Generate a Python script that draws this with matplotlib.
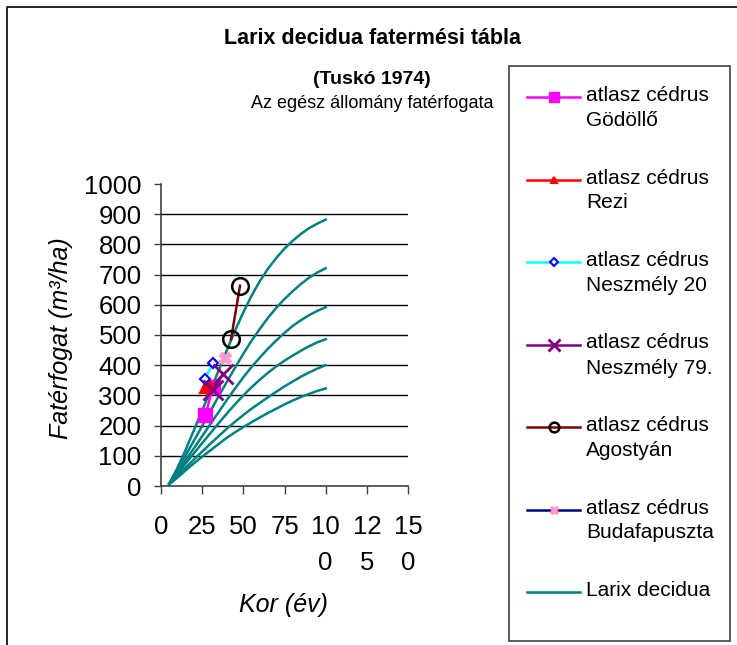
import numpy as np
import matplotlib
matplotlib.use('Agg')
import matplotlib.pyplot as plt
from matplotlib.lines import Line2D
from matplotlib.patches import Rectangle

plt.rcParams['font.family'] = ['Liberation Sans', 'DejaVu Sans']

# Larix decidua yield table (Tuskó 1974), six site classes, read every 5 years
larix_age = [5, 10, 15, 20, 25, 30, 35, 40, 45, 50, 55, 60, 65, 70, 75, 80, 85, 90, 95, 100]
larix_I = [8, 60, 120, 185, 250, 315, 383, 450, 515, 575, 630, 678, 720, 755, 786, 812, 835, 854, 869, 882]
larix_II = [8, 55, 102, 150, 199, 248, 297, 345, 392, 438, 481, 520, 557, 590, 619, 645, 669, 690, 707, 721]
larix_III = [8, 48, 86, 125, 165, 205, 245, 285, 323, 360, 394, 425, 455, 482, 507, 530, 549, 566, 580, 592]
larix_IV = [7, 42, 75, 108, 142, 175, 208, 240, 271, 300, 327, 352, 375, 396, 415, 432, 448, 463, 476, 486]
larix_V = [6, 34, 61, 88, 114, 140, 165, 190, 213, 235, 256, 275, 294, 312, 330, 346, 362, 376, 389, 400]
larix_VI = [6, 28, 52, 75, 97, 118, 139, 160, 178, 195, 211, 227, 242, 256, 270, 283, 295, 305, 315, 323]

# measured stands: age (years), volume (m3/ha)
godollo_age = [27, 31.5]
godollo_vol = [235, 328]
rezi_age = [27, 30]
rezi_vol = [325, 332]
neszmely20_age = [26.7, 31.4]
neszmely20_vol = [354, 406]
neszmely79_age = [31.8, 37.5]
neszmely79_vol = [318, 371]
agostyan_age = [42.5, 48]
agostyan_vol = [486, 663]
budafa_age = [39]
budafa_vol = [423]

xticks = [0, 25, 50, 75, 100, 125, 150]
xtick_labels = ['0', '25', '50', '75', '10\n0', '12\n5', '15\n0']
yticks = [0, 100, 200, 300, 400, 500, 600, 700, 800, 900, 1000]

W, H = 737, 645
fig = plt.figure(figsize=(W / 100, H / 100), dpi=100)

# plot area
ax = fig.add_axes([161 / W, (H - 486) / H, 247 / W, 302 / H])
teal = '#008080'
for curve in [larix_I, larix_II, larix_III, larix_IV, larix_V, larix_VI]:
    ax.plot(larix_age, curve, color=teal, lw=1.8, zorder=2)

# each series: (x, y, style, plot marker size, legend marker size, label)
series = [
    (godollo_age, godollo_vol, dict(color='#FF00FF', marker='s', mfc='#FF00FF', mec='#FF00FF'), 10, 7,
     'atlasz cédrus\nGödöllő'),
    (rezi_age, rezi_vol, dict(color='#FF0000', marker='^', mfc='#FF0000', mec='#FF0000', mew=1.5), 7, 5,
     'atlasz cédrus\nRezi'),
    (neszmely20_age, neszmely20_vol, dict(color='#00FFFF', marker='D', mfc='white', mec='#0000FF', mew=1.5), 5, 4,
     'atlasz cédrus\nNeszmély 20'),
    (neszmely79_age, neszmely79_vol, dict(color='#800080', marker='x', mfc='#800080', mec='#800080', mew=2), 14, 9,
     'atlasz cédrus\nNeszmély 79.'),
    (agostyan_age, agostyan_vol, dict(color='#800000', marker='o', mfc='none', mec='black', mew=1.8), 12, 7,
     'atlasz cédrus\nAgostyán'),
    (budafa_age, budafa_vol, dict(color='#000080', marker='X', mfc='#FF99CC', mec='#FF99CC', mew=1), 8, 6,
     'atlasz cédrus\nBudafapuszta'),
]
for x, y, style, ms, _, _ in series:
    ax.plot(x, y, lw=1.8, ms=ms, zorder=3, **style)

ax.set_xlim(0, 150)
ax.set_ylim(0, 1000)
ax.set_xticks(xticks)
ax.set_xticklabels(xtick_labels, fontsize=18.5, linespacing=1.6)
for t in ax.get_xticklabels():
    t.set_multialignment('center')
ax.set_yticks(yticks)
ax.tick_params(axis='y', labelsize=18.5, direction='out', length=5, pad=9, width=1, color='#404040')
ax.tick_params(axis='x', direction='out', length=6, pad=15, width=1, color='#404040')
for v in yticks[1:-1]:
    ax.axhline(v, color='black', lw=1, zorder=1)
ax.spines['top'].set_visible(False)
ax.spines['right'].set_visible(False)
for side in ['left', 'bottom']:
    ax.spines[side].set_color('#404040')
    ax.spines[side].set_linewidth(1.2)

ax.set_xlabel('Kor (év)', fontsize=18, fontstyle='italic')
ax.xaxis.set_label_coords(0.494, -0.355)
ax.set_ylabel('Fatérfogat (m³/ha)', fontsize=18, fontstyle='italic')
ax.yaxis.set_label_coords(-0.355, 0.49)

# titles
fig.text(372 / W, 1 - 38 / H, 'Larix decidua fatermési tábla', ha='center', va='center',
         fontsize=15.5, fontweight='bold')
fig.text(372 / W, 1 - 80 / H, '(Tuskó 1974)', ha='center', va='center', fontsize=14, fontweight='bold')
fig.text(372 / W, 1 - 104 / H, 'Az egész állomány fatérfogata', ha='center', va='center', fontsize=13)

# outer chart frame
fig.add_artist(Line2D([7 / W, 7 / W, 1], [0, 1 - 7 / H, 1 - 7 / H], color='black', lw=1.2,
                      transform=fig.transFigure))

# legend box drawn by hand (handle aligned with first line of label)
lg = fig.add_axes([509 / W, (H - 641) / H, 221 / W, 575 / H])
lg.set_xlim(0, 221)
lg.set_ylim(575, 0)
lg.axis('off')
lg.add_patch(Rectangle((0, 0), 221, 575, fill=False, ec='#404040', lw=1.2, clip_on=False))
row_y = 31
for x, y, style, _, lms, label in series:
    lg.plot([18, 71], [row_y, row_y], lw=1.8, color=style['color'])
    lg.plot([44.5], [row_y], ls='none', ms=lms, **{k: v for k, v in style.items() if k != 'color'})
    lg.text(77, row_y - 11, label, fontsize=15, va='top', ha='left', linespacing=1.4)
    row_y += 82.5
lg.plot([18, 71], [row_y, row_y], lw=1.8, color=teal)
lg.text(77, row_y - 11, 'Larix decidua', fontsize=15, va='top', ha='left')

fig.savefig('out.png', dpi=100)
